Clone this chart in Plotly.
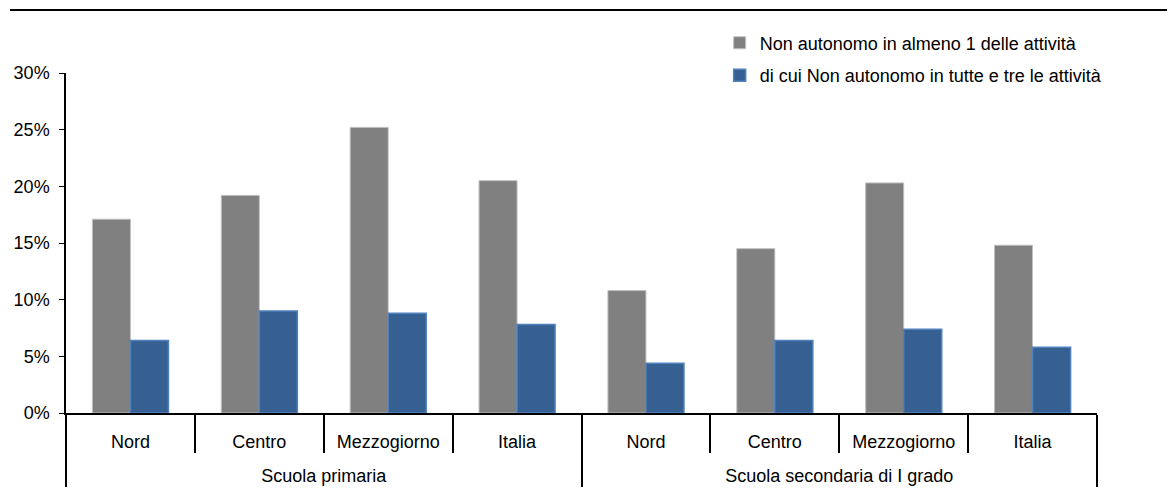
import plotly.graph_objects as go

group_names = ["Scuola primaria", "Scuola secondaria di I grado"]
areas = ["Nord", "Centro", "Mezzogiorno", "Italia"] * 2
almeno1 = [0.171, 0.192, 0.252, 0.205, 0.108, 0.145, 0.203, 0.148]
tutte3 = [0.064, 0.090, 0.088, 0.078, 0.044, 0.064, 0.074, 0.058]
name1 = "Non autonomo in almeno 1 delle attività"
name2 = "di cui Non autonomo in tutte e tre le attività"

# second-level labels pushed one line lower, as in the reference
groups = ["<br>" + g for g in group_names for _ in range(4)]

FONT = "Liberation Sans, Arial, sans-serif"
FS = 18

fig = go.Figure()
fig.add_trace(go.Bar(x=[groups, areas], y=almeno1, name=name1, legendgroup="a",
                     marker=dict(color="#808080", line=dict(color="#bfbfbf", width=1))))
fig.add_trace(go.Bar(x=[groups, areas], y=tutte3, name=name2, legendgroup="b",
                     marker=dict(color="#366092", line=dict(color="#4f81bd", width=1.5))))

fig.update_layout(
    width=1167, height=480,
    margin=dict(l=58, r=78, t=65, b=75, autoexpand=False),
    paper_bgcolor="white", plot_bgcolor="white",
    barmode="group", bargap=0.41, bargroupgap=0,
    font=dict(family=FONT, size=FS, color="black"),
    showlegend=True,
    legend=dict(x=0.634, y=1.041, xanchor="left", yanchor="middle",
                bgcolor="rgba(0,0,0,0)", font=dict(size=FS), tracegroupgap=6,
                itemwidth=30),
    shapes=[dict(type="line", xref="paper", yref="paper",
                 x0=-0.0543, x1=1.08, y0=1.185, y1=1.185,
                 line=dict(color="black", width=2))],
)
fig.update_yaxes(range=[0, 0.30], dtick=0.05, tickformat=".0%",
                 showline=True, linecolor="black", linewidth=1.5,
                 ticks="outside", ticklen=5, tickcolor="black",
                 ticklabelstandoff=6,
                 showgrid=False, zeroline=False, tickfont=dict(size=FS),
                 automargin=False)
fig.update_xaxes(showline=True, linecolor="black", linewidth=1.5,
                 ticks="outside", tickson="boundaries", ticklen=38,
                 tickcolor="black", tickwidth=1.5, ticklabelstandoff=12,
                 showdividers=True, dividercolor="black", dividerwidth=1.5,
                 showgrid=False, tickfont=dict(size=FS), automargin=False)

fig.write_html("out.html")
